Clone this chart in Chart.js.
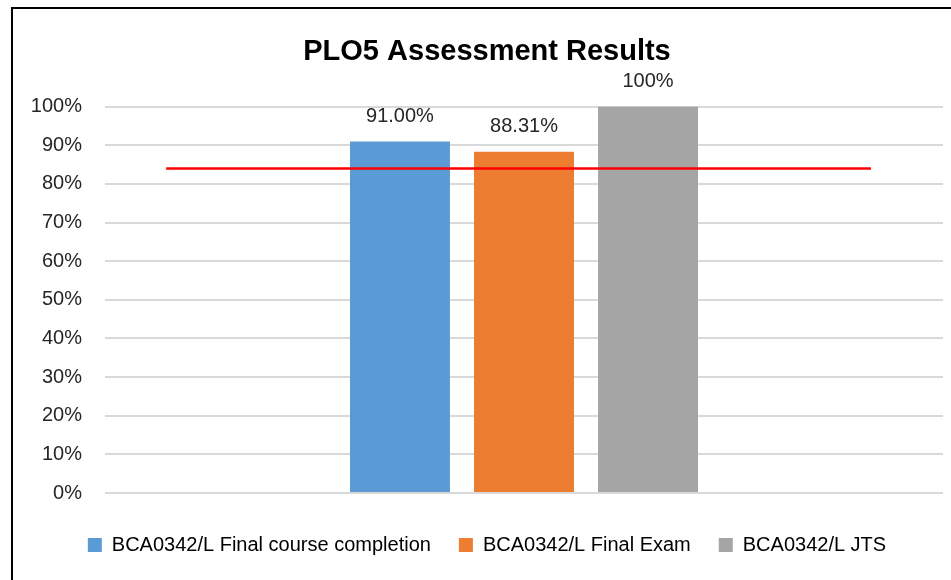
<!DOCTYPE html>
<html>
<head>
<meta charset="utf-8">
<script src="https://cdn.jsdelivr.net/npm/chart.js@4.4.0/dist/chart.umd.min.js"></script>
<style>
  body { margin: 0; background: #fff; }
  #frame {
    position: absolute; left: 11px; top: 7px;
    width: 938px; height: 571px;
    border-left: 2px solid #000; border-top: 2px solid #000;
  }
  canvas { display: block; }
</style>
</head>
<body>
<div id="frame"><canvas id="plo5Chart" width="938" height="571"></canvas></div>
<script>
// chart values
const seriesNames = ['BCA0342/L Final course completion', 'BCA0342/L Final Exam', 'BCA0342/L JTS'];
const seriesValues = [91.00, 88.31, 100];
const valueLabels = ['91.00%', '88.31%', '100%'];
const seriesColors = ['#5B9BD5', '#ED7D31', '#A5A5A5'];
const targetValue = 84;
const targetSpan = [0.073, 0.914]; // share of the plot width covered by the red line

const FONT = "'Liberation Sans', Arial, sans-serif";

// red target line, placed with the y scale
const targetLine = {
    id: 'targetLine',
    afterDatasetsDraw(chart) {
        const {ctx, chartArea} = chart;
        const y = chart.scales.y.getPixelForValue(targetValue);
        const w = chartArea.right - chartArea.left;
        ctx.save();
        ctx.strokeStyle = '#FF0000';
        ctx.lineWidth = 2.5;
        ctx.beginPath();
        ctx.moveTo(chartArea.left + w * targetSpan[0], y);
        ctx.lineTo(chartArea.left + w * targetSpan[1], y);
        ctx.stroke();
        ctx.restore();
    }
};

// draws the value text above each bar
const barLabels = {
    id: 'barLabels',
    afterDatasetsDraw(chart) {
        const ctx = chart.ctx;
        ctx.save();
        ctx.font = '20px ' + FONT;
        ctx.fillStyle = '#262626';
        ctx.textAlign = 'center';
        ctx.textBaseline = 'middle';
        chart.data.datasets.forEach((ds, i) => {
            const bar = chart.getDatasetMeta(i).data[0];
            ctx.fillText(valueLabels[i], bar.x, bar.y - 25);
        });
        ctx.restore();
    }
};

function createChart(ctx) {
    const datasets = seriesNames.map((name, i) => ({
        label: name,
        data: [seriesValues[i]],
        backgroundColor: seriesColors[i],
        borderWidth: 0,
        categoryPercentage: 0.444,
        barPercentage: 0.806
    }));
    return new Chart(ctx, {
        type: 'bar',
        data: {
            labels: [''],
            datasets: datasets
        },
        options: {
            responsive: false,
            animation: false,
            layout: {
                padding: {left: 18, right: 8, top: 0, bottom: 15}
            },
            scales: {
                x: {
                    grid: {display: false, drawTicks: false},
                    border: {display: false},
                    ticks: {display: false},
                    afterFit: axis => { axis.height = 14; }
                },
                y: {
                    min: 0,
                    max: 100,
                    grid: {color: '#D9D9D9', lineWidth: 2, drawTicks: false},
                    border: {display: false},
                    ticks: {
                        stepSize: 10,
                        padding: 23,
                        color: '#262626',
                        font: {family: FONT, size: 20},
                        callback: v => v + '%'
                    },
                    afterFit: axis => { axis.width = 74; }
                }
            },
            plugins: {
                title: {
                    display: true,
                    text: 'PLO5 Assessment Results',
                    color: '#000',
                    font: {family: FONT, size: 29, weight: 'bold'},
                    padding: {top: 25.4, bottom: 37.4}
                },
                legend: {
                    position: 'bottom',
                    labels: {
                        boxWidth: 14,
                        boxHeight: 14,
                        padding: 28,
                        color: '#000',
                        font: {family: FONT, size: 20}
                    }
                },
                tooltip: {enabled: false}
            }
        },
        plugins: [targetLine, barLabels]
    });
}

createChart(document.getElementById('plo5Chart').getContext('2d'));
</script>
</body>
</html>
